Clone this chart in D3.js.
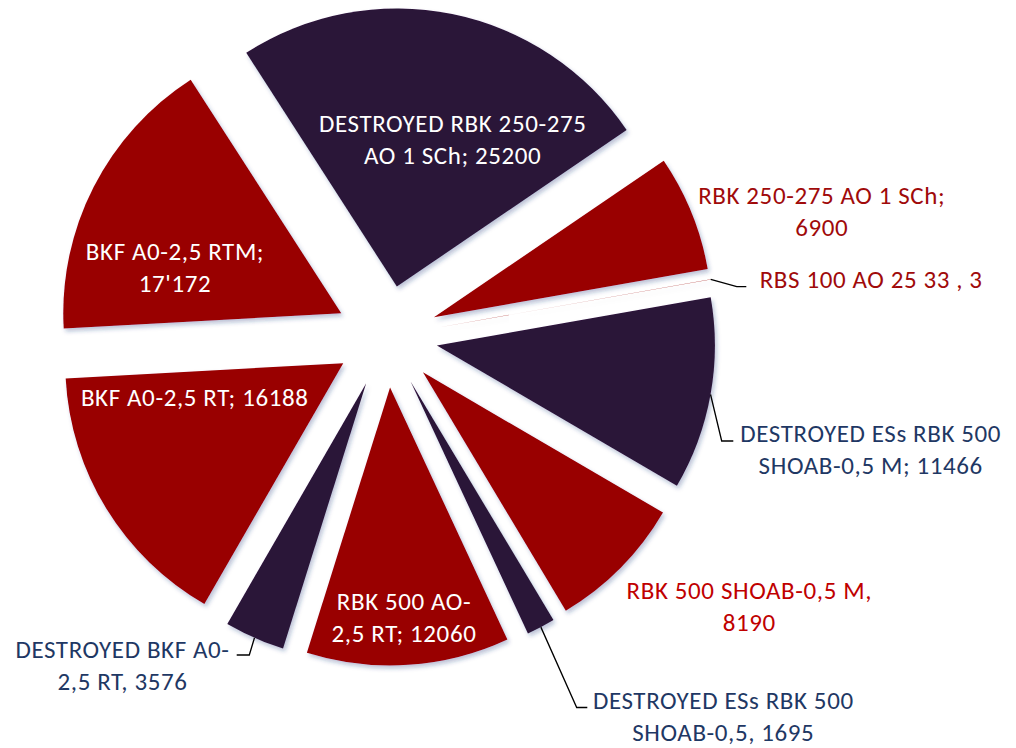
<!DOCTYPE html>
<html>
<head>
<meta charset="utf-8">
<script src="https://cdn.jsdelivr.net/npm/d3@7"></script>
<style>
    body { margin: 0; background: #ffffff; }
    #pie-chart { width: 1016px; height: 748px; }
    .slice-label { font-family: Carlito, Calibri, Lato, sans-serif; font-size: 25px; letter-spacing: 0.6px; }
</style>
</head>
<body>
<div id="pie-chart"></div>
<script>

// slices, clockwise starting with the big one at the top
let categories = [
    "DESTROYED RBK 250-275 AO 1 SCh",
    "RBK 250-275 AO 1 SCh",
    "RBS 100 AO 25 33",
    "DESTROYED ESs RBK 500 SHOAB-0,5 M",
    "RBK 500 SHOAB-0,5 M",
    "DESTROYED ESs RBK 500 SHOAB-0,5",
    "RBK 500 AO-2,5 RT",
    "DESTROYED BKF A0-2,5 RT",
    "BKF A0-2,5 RT",
    "BKF A0-2,5 RTM"
];
let values = [25200, 6900, 3, 11466, 8190, 1695, 12060, 3576, 16188, 17172];
let destroyed = [true, false, false, true, false, true, false, true, false, false];

// label texts as they are printed on the chart
let labelLines = [
    ["DESTROYED RBK 250-275", "AO 1 SCh; 25200"],
    ["RBK 250-275 AO 1 SCh;", "6900"],
    ["RBS 100 AO 25 33 , 3"],
    ["DESTROYED ESs RBK 500", "SHOAB-0,5 M; 11466"],
    ["RBK 500 SHOAB-0,5 M,", "8190"],
    ["DESTROYED ESs RBK 500", "SHOAB-0,5, 1695"],
    ["RBK 500 AO-", "2,5 RT; 12060"],
    ["DESTROYED BKF A0-", "2,5 RT, 3576"],
    ["BKF A0-2,5 RT; 16188"],
    ["BKF A0-2,5 RTM;", "17'172"]
];


class PieVis {

    constructor(_parentElement) {
        this.parentElement = _parentElement;
        this.initVis();
    }

    initVis() {
        let vis = this;

        vis.width = 1016;
        vis.height = 748;
        vis.cx = 386.7;
        vis.cy = 336.5;
        vis.radius = 278;
        vis.explode = 51;

        vis.colors = { dark: "#2c1239", red: "#990000" };

        // label layout, offsets from the pie centre: [dx, first baseline dy, anchor, fill]
        vis.labelLayout = [
            [66, -205, "middle", "#ffffff"],
            [435, -132.5, "middle", "#a00a0a"],
            [373, -48.5, "start", "#a00a0a"],
            [484, 105.2, "middle", "#1f3864"],
            [362.6, 262.5, "middle", "#c00000"],
            [336.6, 372, "middle", "#1f3864"],
            [17.3, 273.5, "middle", "#ffffff"],
            [-264.2, 321.2, "middle", "#1f3864"],
            [-192, 69.2, "middle", "#ffffff"],
            [-211.7, -76.5, "middle", "#ffffff"]
        ];
        // leader lines: slice index -> [end dx, end dy, horizontal run]
        vis.leaders = {
            2: [359.6, -49.8, -9.5],
            3: [346.6, 104.5, -11.6],
            5: [200.6, 371, -10.6],
            7: [-150, 318.5, 12.6]
        };
        vis.lineHeight = 32;

        vis.svg = d3.select("#" + vis.parentElement).append("svg")
            .attr("width", vis.width)
            .attr("height", vis.height);

        let filter = vis.svg.append("defs").append("filter")
            .attr("id", "shadow")
            .attr("x", "-20%").attr("y", "-20%")
            .attr("width", "140%").attr("height", "140%");
        filter.append("feDropShadow")
            .attr("dx", 2)
            .attr("dy", 3)
            .attr("stdDeviation", 2)
            .attr("flood-color", "#22357a")
            .attr("flood-opacity", 0.3);

        vis.g = vis.svg.append("g")
            .attr("transform", "translate(" + vis.cx + "," + vis.cy + ")");

        vis.pie = d3.pie()
            .sort(null)
            .value(d => d)
            .startAngle(-32.8 * Math.PI / 180)
            .endAngle(-32.8 * Math.PI / 180 + 2 * Math.PI);

        vis.arc = d3.arc()
            .innerRadius(0)
            .outerRadius(vis.radius);

        vis.updateVis();
    }

    updateVis() {
        let vis = this;

        vis.displayData = vis.pie(values);

        let offset = function(d) {
            let mid = (d.startAngle + d.endAngle) / 2;
            return [vis.explode * Math.sin(mid), -vis.explode * Math.cos(mid)];
        };

        vis.g.selectAll(".slice")
            .data(vis.displayData)
            .enter().append("path")
            .attr("class", "slice")
            .attr("d", vis.arc)
            .attr("transform", d => "translate(" + offset(d) + ")")
            .attr("fill", (d, i) => destroyed[i] ? vis.colors.dark : vis.colors.red)
            .attr("filter", "url(#shadow)");

        // leader lines from the rim of the slice to the label
        Object.keys(vis.leaders).forEach(function(k) {
            let d = vis.displayData[k];
            let mid = (d.startAngle + d.endAngle) / 2;
            let o = offset(d);
            let sx = o[0] + vis.radius * Math.sin(mid);
            let sy = o[1] - vis.radius * Math.cos(mid);
            let l = vis.leaders[k];
            vis.g.append("path")
                .attr("d", d3.line()([[sx, sy], [l[0] + l[2], l[1]], [l[0], l[1]]]))
                .attr("fill", "none")
                .attr("stroke", "#000000")
                .attr("stroke-width", 1.3);
        });

        let labels = vis.g.selectAll(".slice-label")
            .data(vis.displayData)
            .enter().append("text")
            .attr("class", "slice-label")
            .attr("x", (d, i) => vis.labelLayout[i][0])
            .attr("y", (d, i) => vis.labelLayout[i][1])
            .attr("text-anchor", (d, i) => vis.labelLayout[i][2])
            .attr("fill", (d, i) => vis.labelLayout[i][3]);

        labels.selectAll("tspan")
            .data((d, i) => labelLines[i].map(t => ({ text: t, x: vis.labelLayout[i][0] })))
            .enter().append("tspan")
            .attr("x", t => t.x)
            .attr("dy", (t, j) => j === 0 ? 0 : vis.lineHeight)
            .text(t => t.text);
    }
}

let pieVis = new PieVis("pie-chart");

</script>
</body>
</html>
